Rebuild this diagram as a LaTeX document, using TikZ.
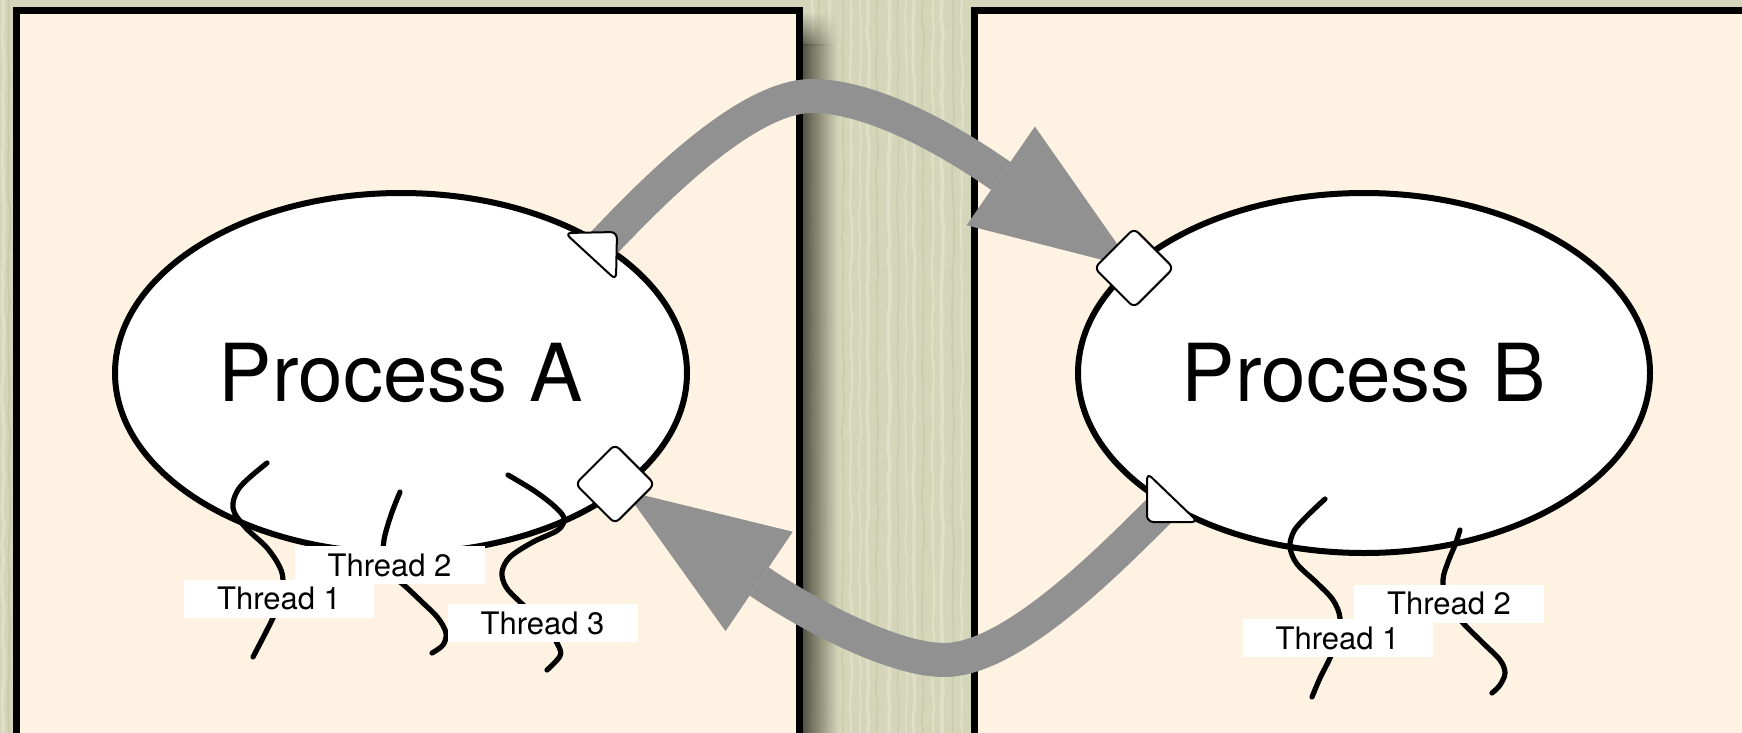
\documentclass[tikz,border=0pt]{standalone}
\usepackage{fontspec}
\setmainfont{TeX Gyre Heros}
\usetikzlibrary{shapes.geometric,arrows.meta,fadings,decorations.pathmorphing}

\pgfdeclarelayer{back}
\pgfdeclarelayer{flow}
\pgfsetlayers{back,flow,main}

\definecolor{wood}{RGB}{213,213,186}
\definecolor{woodlight}{RGB}{229,229,207}
\definecolor{wooddark}{RGB}{198,200,168}
\definecolor{shadowdark}{RGB}{66,66,52}
\definecolor{panel}{RGB}{254,243,226}
\definecolor{flowgray}{RGB}{145,145,145}

\tikzset{
  panelbox/.style={draw=black, line width=7pt, fill=panel},
  procnode/.style={ellipse, draw=black, line width=6pt, fill=white,
    minimum width=572pt, minimum height=360pt, inner sep=0pt,
    font=\fontsize{80}{90}\selectfont},
  threadline/.style={line width=5.2pt, line cap=round, line join=round},
  threadtag/.style={fill=white, inner sep=0pt, minimum width=190pt,
    minimum height=38pt, font=\fontsize{31}{36}\selectfont},
  porthub/.style={circle, inner sep=0pt, minimum size=1pt},
  portface/.style={draw=black, line width=2pt, fill=white, rounded corners=6.5pt},
  portdiamond/.style={diamond, aspect=1, draw=black, line width=2pt, fill=white,
    rounded corners=6pt, inner sep=0pt, minimum width=80pt, minimum height=80pt},
  flowband/.style={draw=flowgray, line width=34pt,
    -{Triangle[length=162pt,width=120pt,line width=0pt]}},
  grain/.style={line width=#1, opacity=0.75, decorate,
    decoration={random steps, segment length=16pt, amplitude=1.2pt}},
}

\begin{document}
\begin{tikzpicture}[x=1pt,y=-1pt]
\useasboundingbox (0,0) rectangle (1742,733);
\pgfmathsetseed{7}

\begin{pgfonlayer}{back}
  % wooden backdrop
  \fill[wood] (0,0) rectangle (1742,733);
  \foreach \x/\c/\w in {3/woodlight/3pt, 9/wooddark/2pt, 812/woodlight/2.5pt,
      819/wooddark/1.5pt, 830/woodlight/3pt, 843/wooddark/1.5pt, 851/woodlight/2pt,
      860/woodlight/1.5pt, 868/woodlight/3pt, 877/wooddark/1.5pt, 889/woodlight/3.5pt,
      898/wooddark/1.2pt, 906/woodlight/1.5pt, 914/woodlight/3pt, 923/wooddark/1.5pt,
      933/woodlight/2pt, 942/woodlight/3.5pt, 953/wooddark/1.5pt, 962/woodlight/2pt}
    \draw[\c, grain=\w] (\x,0) -- (\x,733);
  % shadow cast by the left panel
  \shade[left color=shadowdark, right color=wood, opacity=0.9] (802,45) rectangle (838,733);
  \shade[left color=shadowdark, right color=wood, opacity=0.9, path fading=north]
    (802,12) rectangle (838,46);

  % the two panels
  \draw[panelbox] (16.5,10.5) rectangle (799.5,760);
  \draw[panelbox] (974.5,10.5) rectangle (1770,760);

  % processes
  \node[procnode] (procA) at (401,373) {Process A};
  \node[procnode] (procB) at (1364,373) {Process B};
\end{pgfonlayer}

% threads of process A
\draw[threadline] plot[smooth, tension=0.55] coordinates {(267,463) (240,487) (233,508)
  (245,527) (268,549) (282,573) (281,598) (272,620) (253,657)};
\draw[threadline] plot[smooth, tension=0.55] coordinates {(400,492) (391,515) (384,540)
  (384,560) (392,575) (405,586) (422,602) (438,618) (446,633) (443,645) (432,653)};
\draw[threadline] plot[smooth, tension=0.55] coordinates {(508,475) (533,490) (553,505)
  (564,518) (558,530) (533,542) (510,557) (502,572) (506,587) (520,602) (545,625)
  (558,645) (560,656) (547,670)};

% threads of process B
\draw[threadline] plot[smooth, tension=0.55] coordinates {(1325,499) (1307,516) (1294,531)
  (1290,547) (1297,564) (1317,583) (1333,600) (1340,618) (1337,640) (1330,658)
  (1320,678) (1312,697)};
\draw[threadline] plot[smooth, tension=0.55] coordinates {(1460,530) (1455,545) (1448,562)
  (1443,580) (1447,603) (1463,623) (1483,643) (1500,660) (1505,673) (1500,685) (1492,693)};

% thread labels
\node[threadtag] (ta2) at (389.5,565) {Thread 2};
\node[threadtag] (ta1) at (279,598.5) {Thread 1};
\node[threadtag] (ta3) at (542.5,623) {Thread 3};
\node[threadtag] (tb2) at (1449,603.5) {Thread 2};
\node[threadtag] (tb1) at (1337.5,638) {Thread 1};

% ports
\node[porthub] (aout) at (599,248) {};
\node[porthub] (bout) at (1164,506) {};
\node[portdiamond] (ain) at (615,484) {};
\node[portdiamond] (bin) at (1134,268) {};
\draw[portface] ([shift={(-34,-15)}]aout.center) -- ([shift={(18,-16)}]aout.center)
  -- ([shift={(17,32)}]aout.center) -- cycle;
\draw[portface] ([shift={(-17,-33)}]bout.center) -- ([shift={(-17,16)}]bout.center)
  -- ([shift={(34,16)}]bout.center) -- cycle;

% message flows between the processes
\begin{pgfonlayer}{flow}
  \draw[flowband] (aout.center) .. controls (640,205) and (742,96) .. (812,96)
    .. controls (872,96) and (949,140) .. (998,174) -- (bin.center);
  \draw[flowband, shorten >=12pt] (bout.center) .. controls (1115,554) and (1014,660) .. (944,660)
    .. controls (894,660) and (810,616) .. (760,582) -- (ain.center);
\end{pgfonlayer}
\end{tikzpicture}
\end{document}
